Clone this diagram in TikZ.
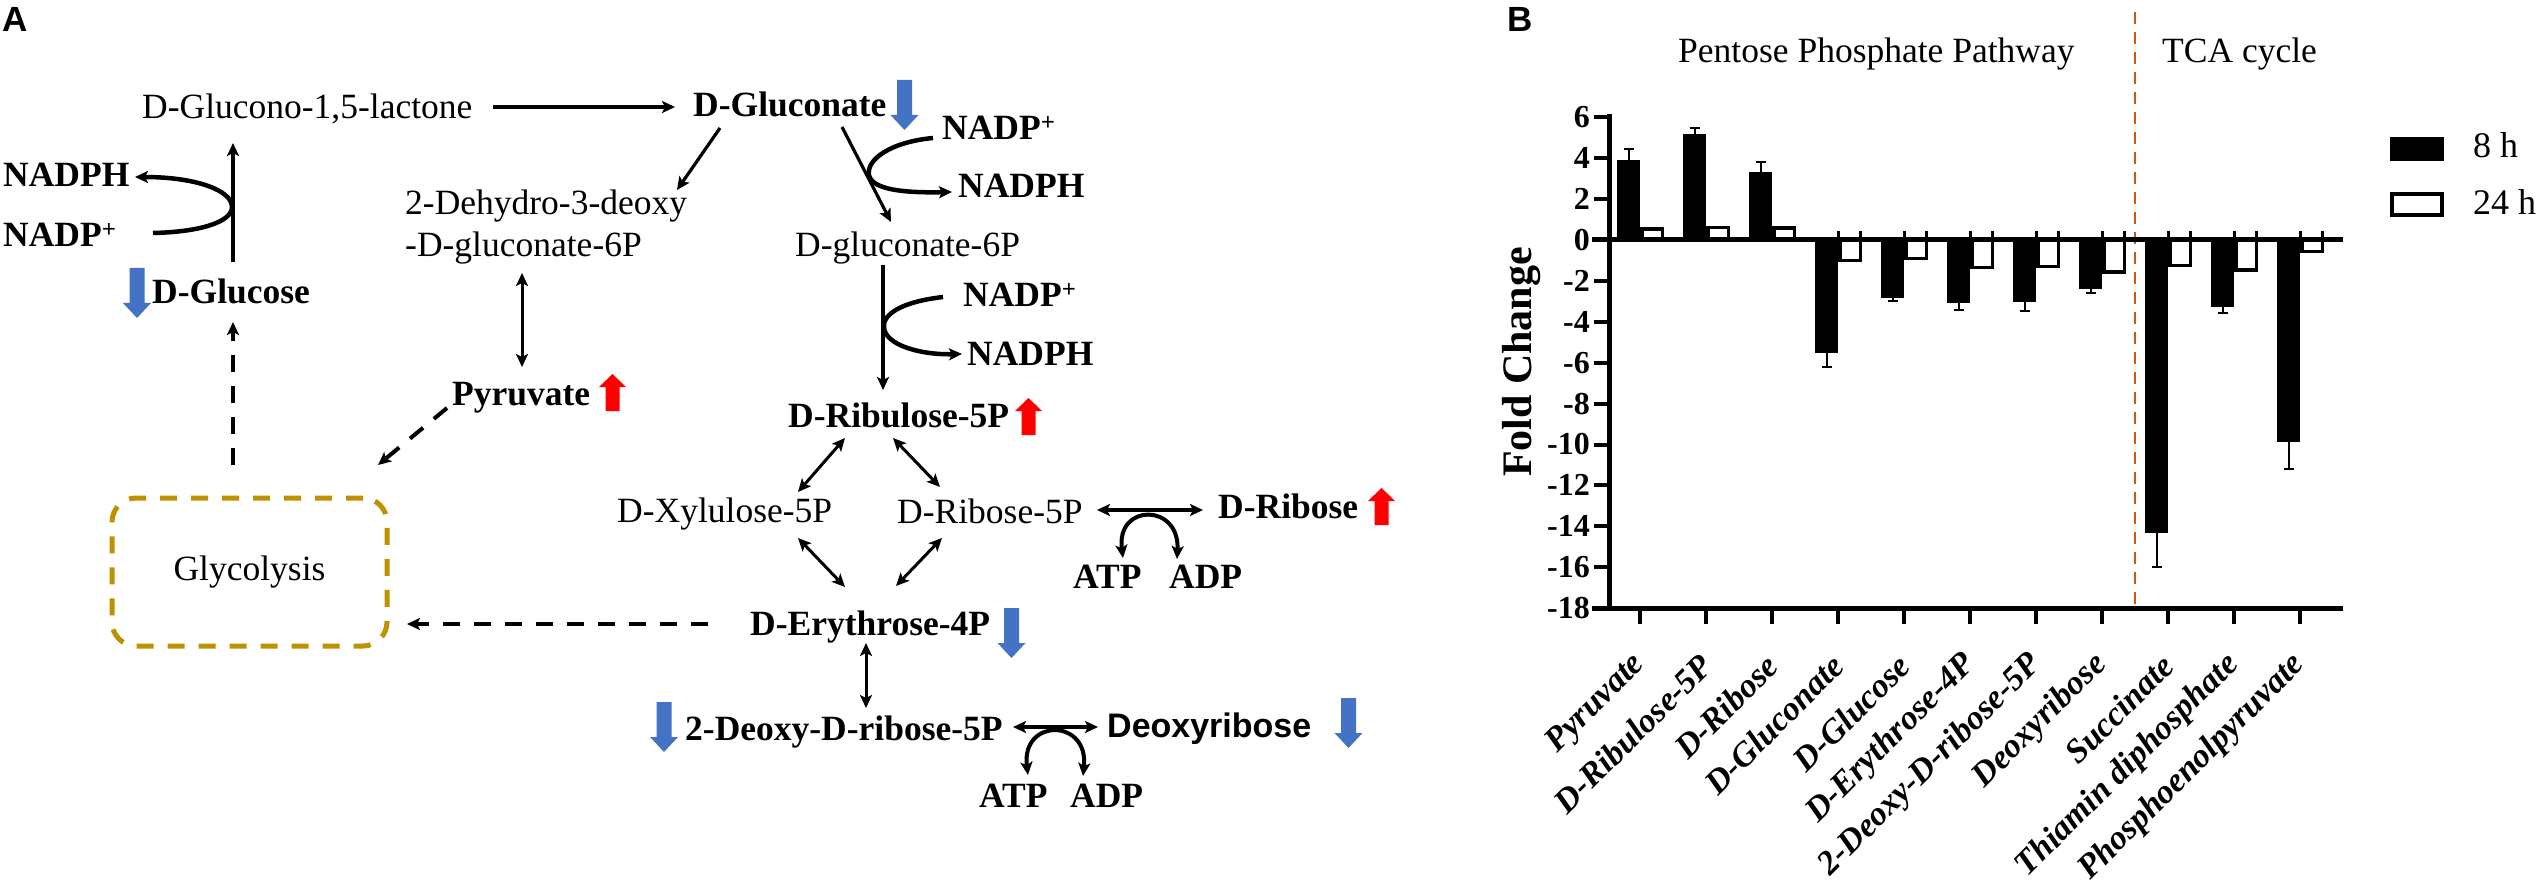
\documentclass[tikz,border=0pt]{standalone}
\usepackage{fontspec}
\setmainfont{Liberation Serif}
\newfontfamily\arialfont{Liberation Sans}
\usetikzlibrary{arrows.meta}
\definecolor{upred}{HTML}{FF0000}
\definecolor{downblue}{HTML}{4472C4}
\definecolor{glygold}{HTML}{BF9000}
\definecolor{sepor}{HTML}{C55A11}
\tikzset{
  reg/.style={font=\fontsize{35.5}{42}\selectfont, inner sep=0pt, anchor=base west},
  bld/.style={font=\fontsize{35.5}{42}\selectfont\bfseries, inner sep=0pt, anchor=base west},
  sansb/.style={font=\fontsize{34}{40}\selectfont\arialfont\bfseries, inner sep=0pt, anchor=base west},
  panel/.style={font=\fontsize{35}{40}\selectfont\arialfont\bfseries, inner sep=0pt, anchor=base west},
  conn/.style={line width=3.2pt, ->},
  dconn/.style={line width=3pt, <->},
  cof/.style={line width=4.5pt, ->},
  dconnthick/.style={line width=4pt, <->},
  dline/.style={line width=4pt, dash pattern=on 17pt off 14pt, ->},
  glybox/.style={draw=glygold, line width=5pt, dash pattern=on 17pt off 14pt, rounded corners=24pt,
    minimum width=275pt, minimum height=148pt, inner sep=0pt, font=\fontsize{35.5}{42}\selectfont},
  ticklab/.style={font=\fontsize{32}{36}\selectfont\bfseries, inner sep=0pt, anchor=east},
  catlab/.style={font=\fontsize{34}{40}\selectfont\bfseries\itshape, inner sep=0pt, anchor=east, rotate=45},
  axisline/.style={line width=5pt},
  dnarrow/.pic={\fill[downblue] (-7.5,0) -- (7.5,0) -- (7.5,35) -- (14,35) -- (0,50) -- (-14,35) -- (-7.5,35) -- cycle;},
  uparrow/.pic={\fill[upred] (0,0) -- (13.5,13) -- (7,13) -- (7,37) -- (-7,37) -- (-7,13) -- (-13.5,13) -- cycle;}
}
\begin{document}
\begin{tikzpicture}[x=1pt,y=-1pt,>={Stealth[length=13pt,width=12pt,inset=3pt]}]
\useasboundingbox (0,0) rectangle (2541,885);
% ---------------- Panel A ----------------
\node[panel] (labA) at (2,32) {A};
\node[reg] (lact) at (142,119) {D-Glucono-1,5-lactone};
\node[bld] (glcn) at (693,117) {D-Gluconate};
\node[bld] (nadphL) at (3,187) {NADPH};
\node[bld] (nadpL) at (3,247) {NADP\textsuperscript{+}};
\node[bld] (glu) at (152,304) {D-Glucose};
\node[reg] (dehydA) at (405,215) {2-Dehydro-3-deoxy};
\node[reg] (dehydB) at (405,257) {-D-gluconate-6P};
\node[bld] (pyr) at (452,405) {Pyruvate};
\node[reg] (g6p) at (795,257) {D-gluconate-6P};
\node[bld] (nadp1) at (942,140) {NADP\textsuperscript{+}};
\node[bld] (nadph1) at (958,198) {NADPH};
\node[bld] (nadp2) at (963,307) {NADP\textsuperscript{+}};
\node[bld] (nadph2) at (967,365) {NADPH};
\node[bld] (ribu) at (788,427) {D-Ribulose-5P};
\node[reg] (xylu) at (617,522) {D-Xylulose-5P};
\node[reg] (rib5p) at (897,523) {D-Ribose-5P};
\node[bld] (drib) at (1218,518) {D-Ribose};
\node[bld] (atp1) at (1073,588) {ATP};
\node[bld] (adp1) at (1169,588) {ADP};
\node[glybox] (glyc) at (249.5,572) {Glycolysis};
\node[bld] (ery) at (750,635) {D-Erythrose-4P};
\node[bld] (deoxy5p) at (685,740) {2-Deoxy-D-ribose-5P};
\node[sansb] (deoxyr) at (1107,737) {Deoxyribose};
\node[bld] (atp2) at (979,807) {ATP};
\node[bld] (adp2) at (1070,807) {ADP};
% up / down markers
\pic at (904.5,80) {dnarrow};
\pic at (137,268) {dnarrow};
\pic at (612.5,374) {uparrow};
\pic at (1028.5,398) {uparrow};
\pic at (1381.5,488) {uparrow};
\pic at (1011.5,608) {dnarrow};
\pic at (664,702) {dnarrow};
\pic at (1348.5,698) {dnarrow};
% connector end points
\coordinate (lactR) at (493,107);   \coordinate (glcnL) at (675,107);
\coordinate (glcnA) at (720,128);   \coordinate (dehydT) at (677,190);
\coordinate (glcnB) at (842,127);   \coordinate (g6pT) at (891,222);
\coordinate (nadp1E) at (933,138);  \coordinate (nadph1W) at (952,192);
\coordinate (gluT) at (233,262);    \coordinate (lactB) at (233,143);
\coordinate (nadpLE) at (153,233);  \coordinate (nadphLE) at (135,177);
\coordinate (glycT) at (233,465);   \coordinate (gluB) at (233,322);
\coordinate (pyrL) at (447,408);    \coordinate (glycTR) at (378,465);
\coordinate (eryL) at (708,624);    \coordinate (glycR) at (407,624);
\coordinate (dehydB2) at (522,273); \coordinate (pyrT) at (522,367);
\coordinate (g6pB) at (883,265);    \coordinate (ribuT) at (883,390);
\coordinate (nadp2E) at (943,297);  \coordinate (nadph2W) at (962,354);
\coordinate (ribuBL) at (845,438);  \coordinate (xyluT) at (798,492);
\coordinate (ribuBR) at (893,438);  \coordinate (rib5pT) at (940,487);
\coordinate (xyluB) at (798,538);   \coordinate (eryTL) at (845,587);
\coordinate (rib5pB) at (942,538);  \coordinate (eryTR) at (896,586);
\coordinate (eryB) at (866,643);    \coordinate (deoxy5pT) at (866,708);
\coordinate (rib5pR) at (1097,510); \coordinate (dribL) at (1203,510);
\coordinate (atp1T) at (1123,558);  \coordinate (adp1T) at (1177,559);
\coordinate (deoxy5pR) at (1013,727); \coordinate (deoxyrL) at (1098,727);
\coordinate (atp2T) at (1028,775);  \coordinate (adp2T) at (1083,776);
% connectors
\draw[conn] (lactR) -- (glcnL);
\draw[conn] (glcnA) -- (dehydT);
\draw[conn] (glcnB) -- (g6pT);
\draw[cof] (nadp1E) .. controls (890,142) and (866,160) .. (869,175) .. controls (872,190) and (905,193) .. (nadph1W);
\draw[conn] (gluT) -- (lactB);
\draw[cof] (nadpLE) .. controls (200,232) and (232,222) .. (232,207) .. controls (232,190) and (195,177) .. (nadphLE);
\draw[dline] (glycT) -- (gluB);
\draw[dline] (pyrL) -- (glycTR);
\draw[dline] (eryL) -- (glycR);
\draw[dconn] (dehydB2) -- (pyrT);
\draw[conn] (g6pB) -- (ribuT);
\draw[cof] (nadp2E) .. controls (900,302) and (882,315) .. (884,328) .. controls (886,345) and (920,355) .. (nadph2W);
\draw[dconn] (ribuBL) -- (xyluT);
\draw[dconn] (ribuBR) -- (rib5pT);
\draw[dconn] (xyluB) -- (eryTL);
\draw[dconn] (rib5pB) -- (eryTR);
\draw[dconn] (eryB) -- (deoxy5pT);
\draw[dconnthick] (rib5pR) -- (dribL);
\draw[dconnthick] (atp1T) .. controls (1116,503) and (1180,503) .. (adp1T);
\draw[dconnthick] (deoxy5pR) -- (deoxyrL);
\draw[dconnthick] (atp2T) .. controls (1021,718) and (1089,718) .. (adp2T);
% ---------------- Panel B ----------------
\node[panel] (labB) at (1507,32) {B};
\node[reg] (ppp) at (1678,63) {Pentose Phosphate Pathway};
\node[reg] (tca) at (2162,63) {TCA cycle};
\draw[sepor, line width=2.5pt, dash pattern=on 12pt off 8pt] (2135,12) -- (2135,608);
% bars
\foreach \i/\a/\ae/\b in {0/3.9/4.45/0.55, 1/5.17/5.5/0.6, 2/3.31/3.81/0.59, 3/-5.54/-6.2/-1.01,
  4/-2.82/-2.98/-0.91, 5/-3.1/-3.42/-1.35, 6/-3.05/-3.47/-1.3, 7/-2.38/-2.6/-1.56,
  8/-14.34/-16.0/-1.24, 9/-3.29/-3.55/-1.47, 10/-9.9/-11.2/-0.57}{
  \pgfmathsetmacro\c{1640.4+65.96*\i}
  \fill (\c-23,240) rectangle (\c,{240-20.45*\a});
  \draw[line width=3.5pt] (\c+1.75,240) rectangle (\c+22.25,{240-20.45*\b});
  \draw[line width=2pt] (\c-11.5,{240-20.45*\a}) -- (\c-11.5,{240-20.45*\ae});
  \draw[line width=2pt] (\c-16.5,{240-20.45*\ae}) -- (\c-6.5,{240-20.45*\ae});
}
% small ticks at the zero line
\foreach \i in {3,...,10}{
  \pgfmathsetmacro\c{1640.4+65.96*\i}
  \draw[line width=3pt] (\c,231) -- (\c,240);
  \draw[line width=3pt] (\c+22.25,231) -- (\c+22.25,240);
}
% axes
\draw[axisline] (1609,114.5) -- (1609,610.5);
\draw[axisline] (1592,240) -- (2343,240);
\draw[axisline] (1592,608) -- (2343,608);
\foreach \v [count=\k] in {6,4,...,-18}{
  \draw[line width=4pt] (1594,{240-20.45*\v}) -- (1609,{240-20.45*\v});
  \node[ticklab] (yt\k) at (1590,{240-20.45*\v}) {\v};
}
\foreach \i in {0,...,10}{
  \pgfmathsetmacro\c{1640.4+65.96*\i}
  \draw[line width=4pt] (\c,608) -- (\c,624);
}
\node[font=\fontsize{42}{48}\selectfont\bfseries, inner sep=0pt, anchor=base, rotate=90] (ylab) at (1531,362) {Fold Change};
\foreach \lab [count=\k from 0] in {Pyruvate, D-Ribulose-5P, D-Ribose, D-Gluconate, D-Glucose, D-Erythrose-4P,
  2-Deoxy-D-ribose-5P, Deoxyribose, Succinate, Thiamin diphosphate, Phosphoenolpyruvate}{
  \pgfmathsetmacro\c{1640.4+65.96*\k}
  \node[catlab] (cat\k) at (\c,660) {\lab};
}
% legend
\fill (2390,137) rectangle (2444,161);
\draw[line width=4pt] (2392,194) rectangle (2442,215);
\node[reg, font=\fontsize{36}{42}\selectfont] (leg8) at (2473,158) {8 h};
\node[reg, font=\fontsize{36}{42}\selectfont] (leg24) at (2473,215) {24 h};
\end{tikzpicture}
\end{document}
